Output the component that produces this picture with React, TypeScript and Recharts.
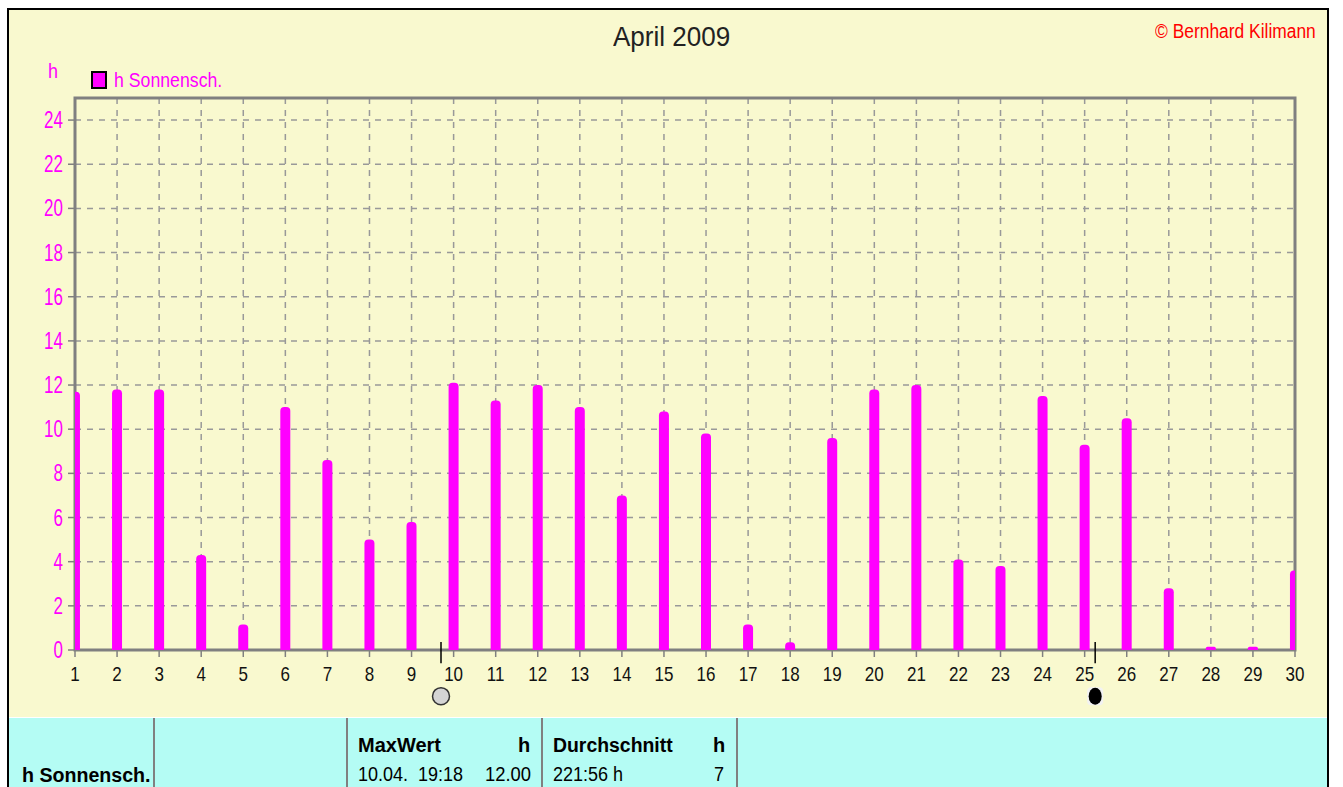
import React from "react";
import { BarChart, Bar, XAxis, YAxis, CartesianGrid, ReferenceArea, ReferenceLine, ReferenceDot } from "recharts";

const days = [1,2,3,4,5,6,7,8,9,10,11,12,13,14,15,16,17,18,19,20,21,22,23,24,25,26,27,28,29,30];
const sunHours = [11.7,11.8,11.8,4.3,1.15,11.0,8.6,5.0,5.8,12.1,11.3,12.0,11.0,7.0,10.8,9.8,1.15,0.35,9.6,11.8,12.0,4.1,3.8,11.5,9.3,10.5,2.8,0.15,0.15,3.6];
const yTicks = [0,2,4,6,8,10,12,14,16,18,20,22,24];
const moonFull = 9.7;
const moonNew = 25.25;
const chartData = days.map((day, i) => ({ day, hours: sunHours[i] }));

const FONT = '"Liberation Sans", Arial, sans-serif';
const MAGENTA = "#ff00ff";
const GREY = "#808080";

const abs = (left: number, top: number, sx: number, extra: React.CSSProperties = {}): React.CSSProperties => ({
  position: "absolute", left, top, whiteSpace: "pre", lineHeight: 1,
  transform: `scaleX(${sx})`, transformOrigin: "left top", ...extra,
});

const XTick = (p: any) => (
  <text x={0} y={0} transform={`translate(${p.x},${p.y + 22}) scale(0.85,1)`} textAnchor="middle" fontSize={20} fontFamily={FONT} fill="#111">
    {p.payload.value}
  </text>
);
const YTick = (p: any) => (
  <text x={0} y={0} transform={`translate(${p.x - 3},${p.y + 8}) scale(0.74,1)`} textAnchor="end" fontSize={23} fontFamily={FONT} fill={MAGENTA}>
    {p.payload.value}
  </text>
);
const NewMoon = (p: any) => (
  <g>
    <rect x={p.cx - 8} y={p.cy - 9} width={16} height={18} rx={4} fill="#f2f2f2" />
    <ellipse cx={p.cx} cy={p.cy} rx={6.5} ry={8.5} fill="#000" />
  </g>
);

export default function App() {
  return (
    <div style={{ position: "absolute", left: 0, top: 0, width: 1343, height: 787, background: "#fff", overflow: "hidden", fontFamily: FONT }}>
      <div style={{ position: "absolute", left: 7, top: 8, width: 1322, height: 779, boxSizing: "border-box", border: "2px solid #000", borderBottom: "none", background: "#f9f9cf" }} />
      <BarChart
        width={1343}
        height={787}
        data={chartData}
        style={{ position: "absolute", left: 0, top: 0 }}
        margin={{ left: 35, right: 48, top: 98, bottom: 97 }}
      >
        <CartesianGrid stroke="#999999" strokeDasharray="6 6" strokeWidth={1.5} horizontalValues={yTicks} verticalValues={days} />
        <XAxis
          dataKey="day"
          type="number"
          domain={[1, 30]}
          ticks={days}
          interval={0}
          allowDataOverflow
          height={40}
          tickSize={7}
          axisLine={false}
          tickLine={{ stroke: GREY, strokeWidth: 1.5 }}
          tick={XTick}
        />
        <YAxis
          type="number"
          domain={[0, 25]}
          ticks={yTicks}
          interval={0}
          width={40}
          tickSize={7}
          axisLine={false}
          tickLine={{ stroke: GREY, strokeWidth: 1.5 }}
          tick={YTick}
        />
        <ReferenceArea x1={1} x2={30} y1={0} y2={25} fill="none" stroke={GREY} strokeWidth={3} ifOverflow="visible" />
        <Bar dataKey="hours" fill={MAGENTA} barSize={10} radius={[4, 4, 0, 0]} isAnimationActive={false} />
        <ReferenceLine segment={[{ x: moonFull, y: 0.36 }, { x: moonFull, y: -0.6 }]} stroke="#000" strokeWidth={1.5} ifOverflow="visible" />
        <ReferenceLine segment={[{ x: moonNew, y: 0.36 }, { x: moonNew, y: -0.6 }]} stroke="#000" strokeWidth={1.5} ifOverflow="visible" />
        <ReferenceDot x={moonFull} y={-2.09} r={8.5} fill="#d4d4d4" stroke="#333" strokeWidth={1.5} ifOverflow="visible" />
        <ReferenceDot x={moonNew} y={-2.09} r={8} shape={NewMoon} ifOverflow="visible" />
      </BarChart>

      <div style={abs(613, 23, 0.93, { fontSize: 28, color: "#222" })}>April 2009</div>
      <div style={abs(1155, 21, 0.87, { fontSize: 20, color: "#ff0000" })}>© Bernhard Kilimann</div>
      <div style={abs(48, 61, 0.9, { fontSize: 20, color: MAGENTA })}>h</div>
      <div style={{ position: "absolute", left: 91, top: 71, width: 16, height: 18, boxSizing: "border-box", border: "2px solid #000", background: MAGENTA }} />
      <div style={abs(114, 70, 0.885, { fontSize: 20, color: MAGENTA })}>h Sonnensch.</div>

      <div style={{ position: "absolute", left: 9, top: 717, width: 1318, height: 1, background: "#fff" }} />
      <div style={{ position: "absolute", left: 9, top: 718, width: 1318, height: 69, background: "#b4fcf4" }} />
      {[153, 346, 541, 736].map((x) => (
        <div key={x} style={{ position: "absolute", left: x, top: 718, width: 2, height: 69, background: GREY }} />
      ))}
      <div style={abs(22, 765, 0.98, { fontSize: 20, fontWeight: 700, color: "#000" })}>h Sonnensch.</div>
      <div style={abs(358, 735, 1, { fontSize: 20, fontWeight: 700, color: "#000" })}>MaxWert</div>
      <div style={abs(518, 735, 1, { fontSize: 20, fontWeight: 700, color: "#000" })}>h</div>
      <div style={abs(358, 764, 0.9, { fontSize: 20, color: "#000" })}>10.04.  19:18</div>
      <div style={abs(485, 764, 0.92, { fontSize: 20, color: "#000" })}>12.00</div>
      <div style={abs(553, 735, 0.97, { fontSize: 20, fontWeight: 700, color: "#000" })}>Durchschnitt</div>
      <div style={abs(713, 735, 1, { fontSize: 20, fontWeight: 700, color: "#000" })}>h</div>
      <div style={abs(553, 764, 0.9, { fontSize: 20, color: "#000" })}>221:56 h</div>
      <div style={abs(714, 764, 0.9, { fontSize: 20, color: "#000" })}>7</div>
    </div>
  );
}
